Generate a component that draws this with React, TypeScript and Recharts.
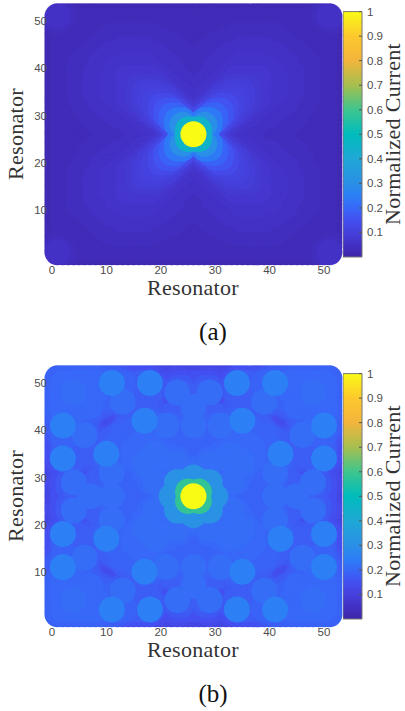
import { BarChart, Bar, ScatterChart, Scatter, XAxis, YAxis } from 'recharts';

// Current in hundredths. Both maps have the symmetry of the square
// around resonator 26, so only one octant is listed: row k holds offsets (k,k) ... (25,k).
const currentA = [
    [100, 40, 11, 8, 7, 6, 5, 5, 5, 4, 4, 4, 4, 4, 4, 4, 3, 3, 3, 3, 3, 3, 3, 3, 2, 2],
    [45, 24, 12, 9, 7, 6, 5, 5, 5, 4, 4, 4, 4, 4, 4, 4, 3, 3, 3, 3, 3, 3, 3, 3, 2],
    [30, 24, 13, 9, 7, 6, 6, 5, 5, 5, 4, 4, 4, 4, 4, 4, 3, 3, 3, 3, 3, 3, 3, 2],
    [24, 18, 12, 8, 7, 6, 6, 5, 5, 5, 4, 4, 4, 4, 4, 4, 3, 3, 3, 3, 3, 3, 2],
    [19, 16, 11, 9, 7, 6, 6, 5, 5, 5, 5, 4, 4, 4, 4, 4, 3, 3, 3, 3, 3, 2],
    [16, 13, 10, 9, 7, 6, 6, 5, 5, 5, 5, 4, 4, 4, 4, 3, 3, 3, 3, 3, 2],
    [13, 11, 9, 8, 7, 6, 6, 5, 5, 5, 5, 4, 4, 4, 4, 3, 3, 3, 3, 2],
    [11, 10, 9, 8, 7, 6, 6, 5, 5, 5, 5, 4, 4, 4, 3, 3, 3, 3, 2],
    [10, 9, 8, 7, 7, 6, 6, 5, 5, 5, 4, 4, 4, 4, 3, 3, 3, 2],
    [9, 8, 7, 7, 6, 6, 6, 5, 5, 5, 4, 4, 4, 3, 3, 3, 2],
    [8, 7, 7, 6, 6, 6, 5, 5, 5, 4, 4, 4, 3, 3, 3, 2],
    [7, 7, 6, 6, 6, 5, 5, 5, 4, 4, 4, 3, 3, 3, 2],
    [7, 6, 6, 6, 5, 5, 5, 4, 4, 4, 3, 3, 3, 2],
    [6, 6, 5, 5, 5, 5, 4, 4, 4, 3, 3, 3, 2],
    [6, 5, 5, 5, 4, 4, 4, 4, 3, 3, 3, 2],
    [5, 5, 5, 4, 4, 4, 4, 3, 3, 3, 2],
    [5, 4, 4, 4, 4, 3, 3, 3, 3, 2],
    [4, 4, 4, 3, 3, 3, 3, 3, 2],
    [4, 3, 3, 3, 3, 3, 3, 2],
    [3, 3, 3, 3, 3, 3, 2],
    [3, 3, 3, 3, 3, 2],
    [3, 3, 3, 3, 2],
    [3, 3, 3, 2],
    [3, 3, 3],
    [3, 4],
    [5],
];

const currentB = [
    [100, 30, 30, 30, 31, 21, 20, 19, 19, 19, 19, 19, 19, 19, 19, 21, 18, 18, 18, 21, 18, 18, 17, 15, 15, 12],
    [58, 30, 30, 20, 20, 20, 19, 19, 19, 19, 19, 19, 19, 19, 19, 18, 18, 18, 18, 18, 18, 17, 15, 14, 12],
    [30, 30, 20, 20, 20, 19, 19, 19, 19, 19, 19, 19, 19, 19, 18, 18, 18, 18, 17, 17, 18, 17, 15, 12],
    [31, 20, 20, 20, 21, 20, 19, 19, 19, 19, 19, 19, 18, 18, 18, 17, 15, 14, 14, 21, 17, 15, 13],
    [20, 20, 20, 20, 20, 19, 19, 19, 19, 19, 19, 19, 18, 18, 13, 12, 12, 12, 12, 15, 14, 12],
    [20, 20, 20, 20, 20, 19, 19, 19, 19, 19, 21, 18, 17, 13, 12, 12, 12, 12, 14, 13, 12],
    [20, 20, 21, 20, 19, 19, 19, 19, 19, 19, 18, 15, 13, 12, 12, 12, 13, 15, 14, 12],
    [20, 20, 21, 20, 19, 19, 19, 19, 18, 18, 17, 15, 14, 14, 14, 15, 17, 15, 13],
    [21, 20, 20, 20, 19, 19, 19, 18, 19, 18, 17, 17, 17, 17, 18, 18, 25, 15],
    [20, 20, 20, 19, 19, 19, 18, 25, 18, 18, 18, 18, 18, 18, 18, 18, 15],
    [20, 20, 19, 19, 19, 18, 18, 18, 18, 18, 18, 18, 18, 18, 18, 15],
    [19, 19, 19, 19, 18, 18, 17, 17, 18, 18, 18, 18, 18, 17, 15],
    [19, 19, 18, 18, 17, 15, 15, 17, 18, 18, 18, 18, 17, 15],
    [19, 18, 15, 13, 13, 14, 17, 21, 18, 18, 19, 19, 16],
    [14, 13, 12, 12, 13, 15, 18, 19, 19, 19, 19, 17],
    [13, 12, 12, 13, 15, 18, 19, 19, 19, 25, 18],
    [12, 12, 13, 15, 18, 19, 19, 19, 19, 18],
    [13, 14, 17, 18, 19, 19, 19, 19, 18],
    [15, 18, 18, 19, 20, 20, 20, 19],
    [20, 19, 20, 20, 20, 20, 19],
    [20, 20, 20, 20, 20, 19],
    [20, 20, 20, 20, 19],
    [21, 20, 20, 19],
    [20, 20, 19],
    [20, 19],
    [19],
];

const xTicks = [0, 10, 20, 30, 40, 50];
const yTicks = [10, 20, 30, 40, 50];
const barTicks = [0.1, 0.2, 0.3, 0.4, 0.5, 0.6, 0.7, 0.8, 0.9, 1];

// colour map stops, as seen on the colour bar
const mapStops = [0, 0.05, 0.1, 0.15, 0.2, 0.25, 0.3, 0.4, 0.5, 0.6, 0.7, 0.8, 0.9, 1];
const mapColors = ['#3e26a8', '#4330c4', '#4540dc', '#434ff0', '#3768f8', '#2c7ff5', '#2a8fe6', '#1fa8d6', '#00bcbc', '#3ec58e', '#a6bf4f', '#f2b53c', '#fdc82d', '#f9fb15'];

const CENTER = 26;
const DOT_R = 13;
const GREY = '#4d4d4d';
const SERIF = '"Liberation Serif", serif';
const SANS = '"Liberation Sans", sans-serif';

function hexToRgb(hex: string) {
    return [1, 3, 5].map(i => parseInt(hex.slice(i, i + 2), 16));
}

function colorOf(v: number) {
    let i = 0;
    while (i < mapStops.length - 2 && v > mapStops[i + 1]) i++;
    const t = (v - mapStops[i]) / (mapStops[i + 1] - mapStops[i]);
    const a = hexToRgb(mapColors[i]);
    const b = hexToRgb(mapColors[i + 1]);
    return `rgb(${a.map((c, k) => Math.round(c + (b[k] - c) * t)).join(',')})`;
}

// unfold the octant to the whole lattice, low values first so the peaks lie on top
function buildPoints(rows: number[][]) {
    const seen = new Map<string, { x: number; y: number; v: number }>();
    rows.forEach((row, k) => {
        row.forEach((val, idx) => {
            const a = k + idx;
            const b = k;
            for (const [dx, dy] of [[a, b], [b, a]]) {
                for (const sx of [-1, 1]) {
                    for (const sy of [-1, 1]) {
                        const x = CENTER + sx * dx;
                        const y = CENTER + sy * dy;
                        seen.set(`${x}_${y}`, { x, y, v: val / 100 });
                    }
                }
            }
        });
    });
    return [...seen.values()].sort((p, q) => p.v - q.v);
}

const Dot = (props: any) => (
    <circle cx={props.cx} cy={props.cy} r={DOT_R} fill={colorOf(props.payload.v)} />
);

const BarTick = (props: any) => (
    <g>
        <line x1={props.x - 3} x2={props.x} y1={props.y} y2={props.y} stroke="#555" strokeWidth={1} />
        <text x={props.x + 5} y={props.y + 4} fontSize={11.5} fontFamily={SANS} fill={GREY}>
            {props.payload.value}
        </text>
    </g>
);

// axis titles, x and y are the baseline point in the chart's own pixels
function axisTitle(value: string, x: number, y: number, turned: boolean) {
    return () => (
        <text
            x={x}
            y={y}
            textAnchor="middle"
            transform={turned ? `rotate(-90 ${x} ${y})` : undefined}
            fontFamily={SERIF}
            fontSize={22}
            letterSpacing={0.3}
            fill="#333"
        >
            {value}
        </text>
    );
}

function Panel({ rows, top, tag }: { rows: number[][]; top: number; tag: string }) {
    const points = buildPoints(rows);
    return (
        <>
            <div style={{ position: 'absolute', left: 0, top }}>
                <ScatterChart width={405} height={330} margin={{ top: 11.6, right: 70.1, bottom: 0, left: 0 }}>
                    <XAxis
                        type="number"
                        dataKey="x"
                        domain={[0, 52]}
                        ticks={xTicks}
                        height={73}
                        axisLine={false}
                        tickLine={false}
                        tickSize={0}
                        tickMargin={9}
                        tick={{ fontSize: 11.5, fontFamily: SANS, fill: GREY }}
                        label={axisTitle('Resonator', 193, 295, false)}
                    />
                    <YAxis
                        type="number"
                        dataKey="y"
                        domain={[0, 52]}
                        ticks={yTicks}
                        width={52}
                        axisLine={false}
                        tickLine={false}
                        tickSize={0}
                        tickMargin={5}
                        tick={{ fontSize: 11.5, fontFamily: SANS, fill: GREY }}
                        label={axisTitle('Resonator', 23, 134, true)}
                    />
                    <Scatter data={points} shape={Dot} isAnimationActive={false} />
                </ScatterChart>
            </div>
            <div style={{ position: 'absolute', left: 343, top }}>
                <BarChart
                    width={62}
                    height={330}
                    data={[{ name: tag, current: 1 }]}
                    barCategoryGap={0}
                    margin={{ top: 11.6, right: 0, bottom: 73, left: 0 }}
                >
                    <defs>
                        <linearGradient id={`map-${tag}`} x1="0" y1="1" x2="0" y2="0">
                            {mapStops.map((s, i) => (
                                <stop key={s} offset={s} stopColor={mapColors[i]} />
                            ))}
                        </linearGradient>
                    </defs>
                    <XAxis dataKey="name" hide />
                    <YAxis
                        orientation="right"
                        domain={[0, 1]}
                        ticks={barTicks}
                        width={43}
                        axisLine={false}
                        tickLine={false}
                        tickSize={0}
                        tickMargin={0}
                        tick={BarTick}
                        interval={0}
                        label={axisTitle('Normalized Current', 57, 134, true)}
                    />
                    <Bar dataKey="current" fill={`url(#map-${tag})`} stroke="#777" isAnimationActive={false} />
                </BarChart>
            </div>
            <div style={{ position: 'absolute', left: 163, width: 100, top: top + 317, lineHeight: '30px', textAlign: 'center', fontFamily: SERIF, fontSize: 25, color: '#111' }}>
                ({tag})
            </div>
        </>
    );
}

export default function App() {
    return (
        <div style={{ position: 'absolute', left: 0, top: 0, width: 405, height: 711, overflow: 'hidden', background: '#fff' }}>
            <Panel rows={currentA} top={0} tag="a" />
            <Panel rows={currentB} top={362} tag="b" />
        </div>
    );
}
